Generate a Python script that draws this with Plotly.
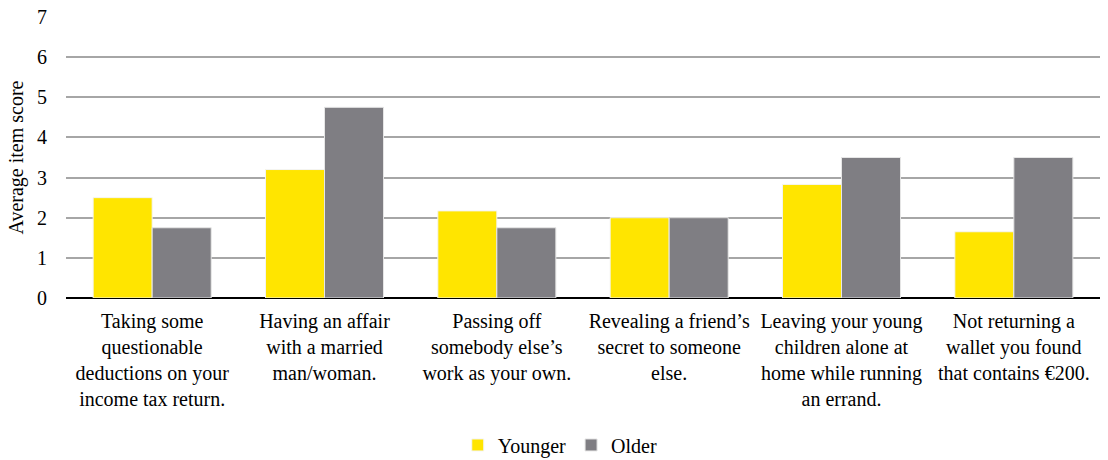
import plotly.graph_objects as go

categories = [
    "Taking some<br>questionable<br>deductions on your<br>income tax return.",
    "Having an affair<br>with a married<br>man/woman.",
    "Passing off<br>somebody else’s<br>work as your own.",
    "Revealing a friend’s<br>secret to someone<br>else.",
    "Leaving your young<br>children alone at<br>home while running<br>an errand.",
    "Not returning a<br>wallet you found<br>that contains €200.",
]
younger = [2.5, 3.2, 2.17, 2.0, 2.83, 1.65]
older = [1.75, 4.75, 1.75, 2.0, 3.5, 3.5]
y_ticks = [0, 1, 2, 3, 4, 5, 6, 7]

FONT = "Liberation Serif"

fig = go.Figure()
fig.add_trace(go.Bar(x=categories, y=younger, name="Younger",
                     marker=dict(color="#FFE500", line=dict(color="#f4f4f4", width=1))))
fig.add_trace(go.Bar(x=categories, y=older, name="Older",
                     marker=dict(color="#7F7E83", line=dict(color="#e6e6e6", width=1))))

fig.update_layout(
    width=1108, height=460,
    margin=dict(l=66, r=8, t=17, b=162, autoexpand=False),
    paper_bgcolor="white", plot_bgcolor="white",
    barmode="group", bargap=0.315, bargroupgap=0,
    font=dict(family=FONT, size=20, color="black"),
    showlegend=True,
    legend=dict(orientation="h", x=0.478, xanchor="center", y=-0.523, yanchor="middle",
                font=dict(family=FONT, size=20), itemwidth=30, traceorder="normal"),
    xaxis=dict(showgrid=False, showline=False, ticks="", tickfont=dict(family=FONT, size=20),
               automargin=False, ticklabelstandoff=9),
    yaxis=dict(range=[0, 7], tickvals=y_ticks, showgrid=True, gridcolor="#a6a6a6",
               gridwidth=2, zeroline=True, zerolinecolor="black", zerolinewidth=2,
               showline=False, ticks="", ticklabelstandoff=18,
               tickfont=dict(family=FONT, size=20), automargin=False,
               title=dict(text="Average item score", font=dict(family=FONT, size=20), standoff=8)),
)

fig.write_html("out.html")
